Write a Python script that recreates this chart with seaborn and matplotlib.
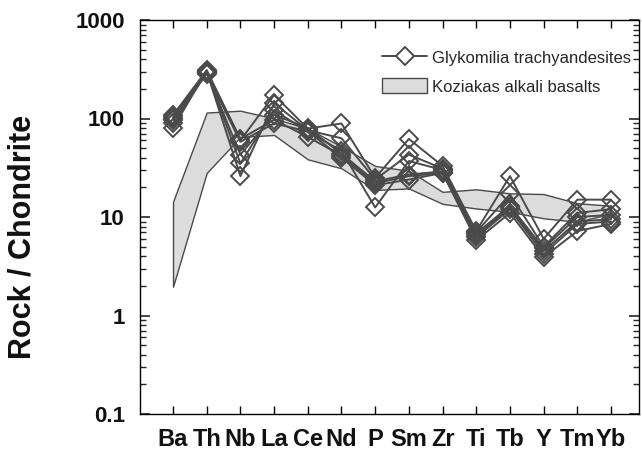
import numpy as np
import pandas as pd
import matplotlib
matplotlib.use("Agg")
import matplotlib.pyplot as plt
import seaborn as sns
from matplotlib.lines import Line2D
from matplotlib.patches import Patch
from matplotlib.ticker import LogLocator, NullFormatter, FixedLocator

elements = ["Ba", "Th", "Nb", "La", "Ce", "Nd", "P", "Sm", "Zr", "Ti", "Tb", "Y", "Tm", "Yb"]

s1 = [108, 310, 60, 173, 79, 89, 25, 62, 33, 7.2, 26, 6.0, 15, 15]
s2 = [103, 300, 26, 143, 76, 63, 24, 43, 31, 7.0, 17, 5.0, 11, 12]
s3 = [97, 295, 35, 122, 73, 47, 12.5, 37, 30, 6.8, 13, 4.8, 10, 10.5]
s4 = [89, 290, 43, 109, 80, 44, 23, 27, 29, 6.5, 12.5, 4.5, 9, 9.5]
s5 = [80, 305, 62, 97, 65, 42, 22, 26, 28, 6.2, 12, 4.2, 8.5, 9]
s6 = [100, 285, 58, 89, 74, 40, 21, 24, 28, 5.8, 11, 3.9, 7.2, 8.5]
samples = {"G1": s1, "G2": s2, "G3": s3, "G4": s4, "G5": s5, "G6": s6}

band_upper = [14.3, 115, 120, 100, 79, 52, 33, 29.5, 18, 19.1, 17.4, 17.1, 13.8, 13.0]
band_lower = [1.96, 28, 65, 68, 38.5, 31.2, 18.8, 19.5, 13.6, 12.2, 11.3, 9.7, 8.95, 10.8]

y_ticks = [0.1, 1, 10, 100, 1000]
y_ticklabels = ["0.1", "1", "10", "100", "1000"]

legend_line = "Glykomilia trachyandesites"
legend_band = "Koziakas alkali basalts"
ylabel = "Rock / Chondrite"

rows = []
for name, vals in samples.items():
    for i, (el, v) in enumerate(zip(elements, vals)):
        rows.append({"sample": name, "pos": i, "element": el, "value": v})
df = pd.DataFrame(rows)

sns.set_style("white")
plt.rcParams["font.family"] = ["Liberation Sans", "DejaVu Sans"]

fig = plt.figure(figsize=(6.42, 4.54), dpi=100)
ax = fig.add_axes([140 / 642, 1 - 414 / 454, 499 / 642, 394 / 454])

dark = "#4a4a4a"
pos = np.arange(len(elements))
ax.fill_between(pos, band_lower, band_upper, facecolor="#dcdcdc",
                edgecolor=dark, linewidth=1.0, zorder=1)

sns.lineplot(data=df, x="pos", y="value", units="sample", estimator=None,
             color=dark, linewidth=1.4, marker="D", markersize=9.5,
             markerfacecolor="none", markeredgecolor=dark, markeredgewidth=1.4,
             ax=ax, zorder=3, legend=False)

ax.set_yscale("log")
ax.set_ylim(0.1, 1000)
ax.set_xlim(-0.98, 13.83)

ax.set_xticks(pos)
ax.set_xticklabels(elements, fontsize=17, fontweight="bold")
ax.yaxis.set_major_locator(FixedLocator(y_ticks))
ax.set_yticklabels(y_ticklabels, fontsize=16, fontweight="bold")
ax.yaxis.set_minor_locator(LogLocator(base=10, subs=np.arange(2, 10)))
ax.yaxis.set_minor_formatter(NullFormatter())

ax.tick_params(axis="x", which="major", direction="in", length=6, width=1,
               top=True, bottom=True, pad=10, colors="black")
ax.tick_params(axis="y", which="major", direction="in", length=7, width=1.2,
               left=True, right=True, pad=11)
ax.tick_params(axis="y", which="minor", direction="in", length=4, width=1,
               left=True, right=True)
for lab in ax.get_xticklabels() + ax.get_yticklabels():
    lab.set_color("#111111")

for sp in ax.spines.values():
    sp.set_visible(True)
    sp.set_color("black")
    sp.set_linewidth(1.0)

ax.set_xlabel("")
ax.set_ylabel(ylabel, fontsize=22, fontweight="bold", color="#111111")
ax.yaxis.set_label_coords(-0.205, 0.45)

handles = [
    Line2D([0], [0], color=dark, linewidth=1.4, marker="D", markersize=9.5,
           markerfacecolor="white", markeredgecolor=dark, markeredgewidth=1.4),
    Patch(facecolor="#dcdcdc", edgecolor=dark, linewidth=1.0),
]
ax.legend(handles, [legend_line, legend_band], loc="upper right",
          bbox_to_anchor=(1.005, 0.95), frameon=False, fontsize=12,
          handlelength=2.7, handleheight=1.0, handletextpad=0.3,
          labelspacing=0.75, borderaxespad=0.2)

fig.savefig("out.png", dpi=100)
